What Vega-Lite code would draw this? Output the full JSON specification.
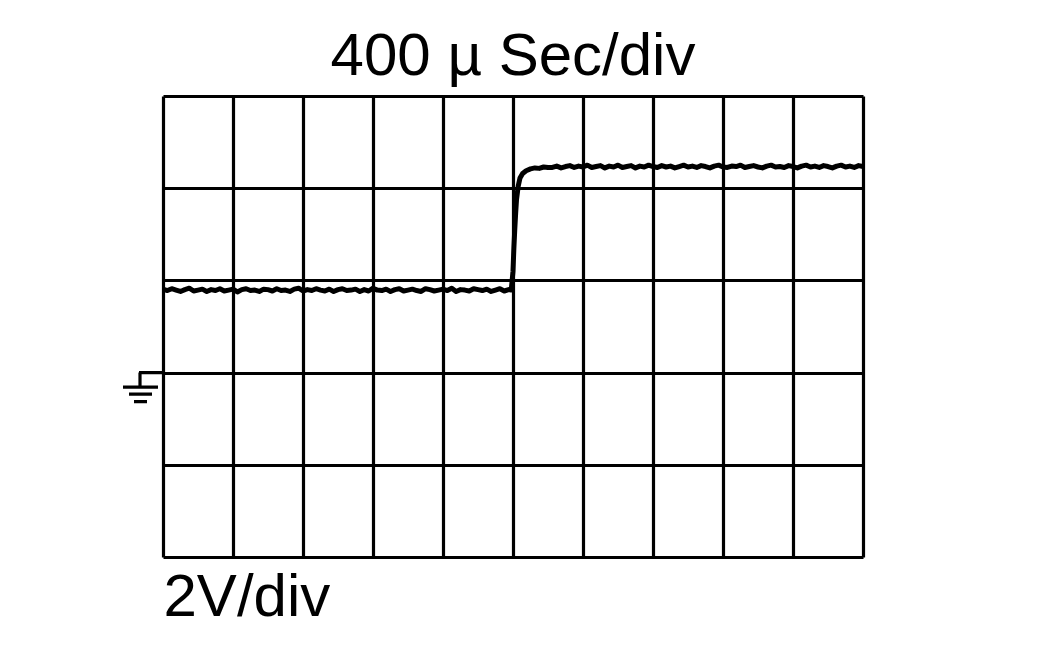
{
  "$schema": "https://vega.github.io/schema/vega-lite/v6.json",
  "width": 700,
  "height": 461,
  "autosize": {"type": "none"},
  "padding": {"left": 163, "top": 96, "right": 200, "bottom": 104},
  "background": "white",
  "config": {"view": {"stroke": null}},
  "title": {"text": "400 µ Sec/div", "fontSize": 60, "font": "Liberation Sans", "fontWeight": "normal", "color": "black", "offset": 8, "anchor": "middle"},
  "encoding": {
    "x": {"field": "t", "type": "quantitative", "scale": {"domain": [0, 4000], "nice": false, "zero": false},
      "axis": {"values": [0,400,800,1200,1600,2000,2400,2800,3200,3600,4000], "labels": false, "ticks": false, "domain": false, "grid": true, "gridColor": "black", "gridWidth": 3.2, "gridOpacity": 1,
        "title": "2V/div", "titleFont": "Liberation Sans", "titleFontSize": 60, "titleFontWeight": "normal", "titleColor": "black", "titleAlign": "left", "titleBaseline": "alphabetic", "titleX": 0, "titleY": 58}},
    "y": {"field": "v", "type": "quantitative", "scale": {"domain": [-4, 6], "nice": false, "zero": false},
      "axis": {"values": [-4,-2,0,2,4,6], "labels": false, "ticks": false, "domain": false, "grid": true, "gridColor": "black", "gridWidth": 3.2, "gridOpacity": 1, "title": null}}
  },
  "layer": [
    {
      "data": {"values": [
        {"t":0,"v":1.81},{"t":25,"v":1.78},{"t":50,"v":1.82},{"t":75,"v":1.79},{"t":100,"v":1.76},{"t":125,"v":1.80},{"t":150,"v":1.83},{"t":175,"v":1.77},{"t":200,"v":1.79},{"t":225,"v":1.81},
        {"t":250,"v":1.76},{"t":275,"v":1.80},{"t":300,"v":1.78},{"t":325,"v":1.82},{"t":350,"v":1.77},{"t":375,"v":1.79},{"t":400,"v":1.81},{"t":425,"v":1.75},{"t":450,"v":1.80},{"t":475,"v":1.82},
        {"t":500,"v":1.78},{"t":525,"v":1.79},{"t":550,"v":1.76},{"t":575,"v":1.81},{"t":600,"v":1.80},{"t":625,"v":1.77},{"t":650,"v":1.82},{"t":675,"v":1.78},{"t":700,"v":1.79},{"t":725,"v":1.76},
        {"t":750,"v":1.81},{"t":775,"v":1.83},{"t":800,"v":1.77},{"t":825,"v":1.80},{"t":850,"v":1.78},{"t":875,"v":1.82},{"t":900,"v":1.79},{"t":925,"v":1.77},{"t":950,"v":1.81},{"t":975,"v":1.76},
        {"t":1000,"v":1.80},{"t":1025,"v":1.82},{"t":1050,"v":1.78},{"t":1075,"v":1.79},{"t":1100,"v":1.81},{"t":1125,"v":1.76},{"t":1150,"v":1.80},{"t":1175,"v":1.77},{"t":1200,"v":1.83},{"t":1225,"v":1.79},
        {"t":1250,"v":1.78},{"t":1275,"v":1.81},{"t":1300,"v":1.76},{"t":1325,"v":1.80},{"t":1350,"v":1.82},{"t":1375,"v":1.77},{"t":1400,"v":1.79},{"t":1425,"v":1.81},{"t":1450,"v":1.78},{"t":1475,"v":1.76},
        {"t":1500,"v":1.82},{"t":1525,"v":1.80},{"t":1550,"v":1.77},{"t":1575,"v":1.79},{"t":1600,"v":1.81},{"t":1625,"v":1.78},{"t":1650,"v":1.83},{"t":1675,"v":1.76},{"t":1700,"v":1.80},{"t":1725,"v":1.79},
        {"t":1750,"v":1.77},{"t":1775,"v":1.82},{"t":1800,"v":1.80},{"t":1825,"v":1.78},{"t":1850,"v":1.81},{"t":1875,"v":1.76},{"t":1900,"v":1.79},{"t":1925,"v":1.82},{"t":1950,"v":1.77},{"t":1975,"v":1.80},
        {"t":1990,"v":1.79},{"t":2000,"v":2.2},{"t":2005,"v":2.7},{"t":2010,"v":3.1},{"t":2015,"v":3.45},{"t":2020,"v":3.75},{"t":2030,"v":4.05},{"t":2040,"v":4.22},{"t":2055,"v":4.32},{"t":2075,"v":4.38},
        {"t":2100,"v":4.42},{"t":2125,"v":4.44},{"t":2150,"v":4.43},{"t":2175,"v":4.46},{"t":2200,"v":4.45},
        {"t":2225,"v":4.45},{"t":2250,"v":4.48},{"t":2275,"v":4.44},{"t":2300,"v":4.47},{"t":2325,"v":4.49},{"t":2350,"v":4.45},{"t":2375,"v":4.48},{"t":2400,"v":4.46},{"t":2425,"v":4.50},{"t":2450,"v":4.45},
        {"t":2475,"v":4.47},{"t":2500,"v":4.49},{"t":2525,"v":4.44},{"t":2550,"v":4.48},{"t":2575,"v":4.46},{"t":2600,"v":4.50},{"t":2625,"v":4.45},{"t":2650,"v":4.47},{"t":2675,"v":4.49},{"t":2700,"v":4.44},
        {"t":2725,"v":4.48},{"t":2750,"v":4.46},{"t":2775,"v":4.50},{"t":2800,"v":4.47},{"t":2825,"v":4.45},{"t":2850,"v":4.49},{"t":2875,"v":4.46},{"t":2900,"v":4.48},{"t":2925,"v":4.44},{"t":2950,"v":4.47},
        {"t":2975,"v":4.50},{"t":3000,"v":4.46},{"t":3025,"v":4.48},{"t":3050,"v":4.45},{"t":3075,"v":4.49},{"t":3100,"v":4.47},{"t":3125,"v":4.44},{"t":3150,"v":4.48},{"t":3175,"v":4.50},{"t":3200,"v":4.46},
        {"t":3225,"v":4.45},{"t":3250,"v":4.48},{"t":3275,"v":4.47},{"t":3300,"v":4.50},{"t":3325,"v":4.45},{"t":3350,"v":4.47},{"t":3375,"v":4.49},{"t":3400,"v":4.46},{"t":3425,"v":4.44},{"t":3450,"v":4.48},
        {"t":3475,"v":4.50},{"t":3500,"v":4.46},{"t":3525,"v":4.47},{"t":3550,"v":4.45},{"t":3575,"v":4.49},{"t":3600,"v":4.47},{"t":3625,"v":4.44},{"t":3650,"v":4.48},{"t":3675,"v":4.50},{"t":3700,"v":4.46},
        {"t":3725,"v":4.48},{"t":3750,"v":4.45},{"t":3775,"v":4.49},{"t":3800,"v":4.47},{"t":3825,"v":4.44},{"t":3850,"v":4.48},{"t":3875,"v":4.50},{"t":3900,"v":4.46},{"t":3925,"v":4.48},{"t":3950,"v":4.45},{"t":3975,"v":4.49},{"t":4000,"v":4.47}
      ]},
      "mark": {"type": "line", "color": "black", "strokeWidth": 5, "strokeJoin": "round"}
    },
    {
      "data": {"values": [{"t": 0, "v": 0}]},
      "mark": {"type": "point", "shape": "M-24,0H0M-23,0V14.5M-40,14.5H-5M-34,21.5H-11M-29,29H-16", "size": 4, "filled": false, "stroke": "black", "strokeWidth": 3.2, "opacity": 1, "strokeCap": "butt"}
    }
  ]
}
